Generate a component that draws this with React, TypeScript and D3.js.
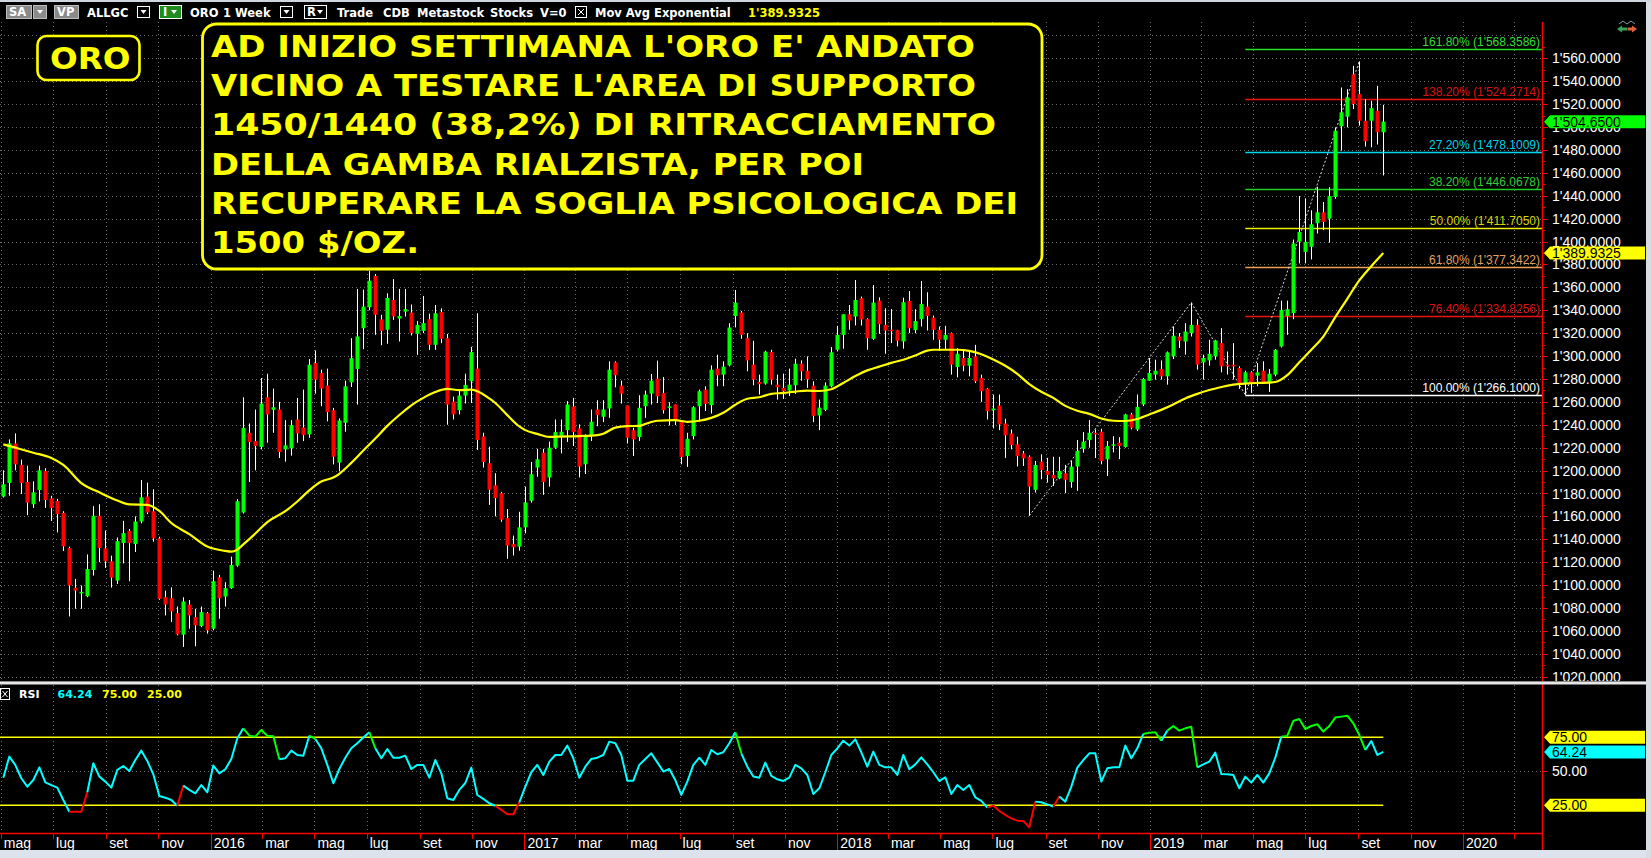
import React from "react";
import * as d3 from "d3";

// ---------------- DATA ----------------
const FIRST_WEEK = Date.UTC(2015, 4, 4); // first weekly bar: week of 4 May 2015
const DAY = 86400000;

const opens = [
  1177.3, 1189.2, 1223.7, 1205.0, 1190.0, 1170.6, 1183.0, 1199.6, 1175.7, 1173.5,
  1163.0, 1132.3, 1097.6, 1093.0, 1090.3, 1113.2, 1160.5, 1132.0, 1120.8, 1104.0,
  1136.7, 1147.4, 1135.8, 1155.5, 1177.3, 1164.5, 1140.8, 1089.4, 1088.6, 1075.5,
  1056.7, 1083.0, 1072.0, 1064.2, 1075.5, 1061.9, 1106.8, 1090.0, 1097.3, 1117.0,
  1163.4, 1233.0, 1225.7, 1220.5, 1264.0, 1253.0, 1253.3, 1218.5, 1219.4, 1244.6,
  1237.6, 1231.6, 1293.9, 1285.2, 1274.2, 1252.7, 1206.9, 1241.7, 1277.0, 1288.7,
  1324.3, 1342.6, 1369.9, 1332.0, 1322.9, 1349.0, 1332.7, 1338.8, 1338.0, 1319.4,
  1322.0, 1332.2, 1309.8, 1338.5, 1315.6, 1260.2, 1252.7, 1265.5, 1278.0, 1289.0,
  1229.8, 1206.4, 1187.2, 1180.3, 1158.5, 1136.0, 1133.6, 1150.4, 1173.6, 1202.6,
  1215.6, 1193.9, 1220.0, 1230.0, 1235.3, 1256.0, 1236.8, 1205.5, 1230.0, 1253.3,
  1247.0, 1254.2, 1294.5, 1274.2, 1256.8, 1235.3, 1229.3, 1256.2, 1267.2, 1280.3,
  1267.8, 1254.8, 1257.7, 1244.0, 1212.7, 1230.1, 1256.2, 1270.7, 1257.1, 1289.0,
  1283.8, 1291.9, 1335.0, 1338.0, 1315.6, 1292.5, 1277.4, 1276.0, 1303.5, 1275.0,
  1272.2, 1269.8, 1274.5, 1293.3, 1287.2, 1274.2, 1248.1, 1253.0, 1273.6, 1305.5,
  1318.5, 1336.5, 1334.5, 1350.4, 1332.2, 1315.0, 1348.4, 1327.2, 1323.0, 1322.6,
  1312.7, 1348.1, 1322.7, 1332.2, 1343.2, 1333.6, 1322.9, 1314.2, 1320.0, 1290.4,
  1298.3, 1291.6, 1299.7, 1280.9, 1271.6, 1252.7, 1256.8, 1241.1, 1232.4, 1222.9,
  1215.0, 1212.1, 1183.2, 1207.8, 1199.7, 1196.2, 1193.1, 1197.7, 1190.0, 1203.5,
  1219.0, 1226.6, 1233.0, 1233.9, 1209.8, 1222.0, 1224.3, 1220.6, 1249.0, 1235.9,
  1257.7, 1278.5, 1283.8, 1288.7, 1282.3, 1299.7, 1317.1, 1312.7, 1320.0, 1327.2,
  1294.5, 1296.2, 1299.7, 1311.3, 1292.5, 1292.5, 1289.6, 1276.5, 1285.8, 1282.9,
  1287.2, 1277.1, 1283.8, 1308.4, 1335.0, 1337.4, 1400.0, 1391.0, 1395.4, 1416.0,
  1425.5, 1420.0, 1438.9, 1500.6, 1509.0, 1546.0, 1528.7, 1505.5, 1505.5, 1514.2,
  1495.4,
];

const highs = [
  1200.2, 1227.2, 1232.4, 1209.5, 1204.3, 1190.6, 1204.3, 1202.0, 1178.0, 1175.3,
  1164.5, 1133.5, 1105.4, 1099.6, 1126.8, 1168.9, 1170.6, 1147.7, 1125.7, 1141.6,
  1156.1, 1148.9, 1160.0, 1191.8, 1189.5, 1183.7, 1142.2, 1095.2, 1098.0, 1081.3,
  1089.4, 1087.0, 1079.3, 1081.3, 1076.4, 1112.6, 1108.9, 1102.5, 1124.8, 1175.0,
  1264.0, 1241.1, 1253.3, 1280.8, 1284.6, 1271.6, 1260.0, 1244.0, 1244.0, 1263.4,
  1270.7, 1297.4, 1304.9, 1288.1, 1289.0, 1254.7, 1245.5, 1278.5, 1315.6, 1358.6,
  1358.0, 1374.5, 1371.6, 1336.0, 1354.8, 1367.2, 1358.6, 1358.6, 1345.0, 1330.5,
  1352.5, 1337.0, 1344.6, 1341.7, 1319.3, 1264.6, 1270.7, 1284.6, 1308.0, 1337.4,
  1233.0, 1220.8, 1197.7, 1181.4, 1166.4, 1143.2, 1164.0, 1186.0, 1207.5, 1219.0,
  1219.0, 1225.2, 1244.6, 1244.6, 1260.6, 1263.5, 1240.3, 1231.6, 1253.3, 1261.4,
  1261.4, 1295.4, 1295.4, 1278.5, 1256.8, 1237.4, 1265.8, 1269.8, 1284.3, 1296.0,
  1281.7, 1259.7, 1257.7, 1244.0, 1233.0, 1256.2, 1270.7, 1273.6, 1291.9, 1301.2,
  1295.4, 1328.7, 1357.7, 1339.4, 1320.0, 1313.3, 1283.8, 1304.6, 1305.5, 1283.8,
  1284.6, 1289.0, 1297.7, 1296.2, 1299.7, 1278.0, 1262.0, 1277.0, 1307.8, 1326.4,
  1336.5, 1344.6, 1366.4, 1351.9, 1333.0, 1362.0, 1351.3, 1341.7, 1341.0, 1322.9,
  1351.0, 1356.8, 1340.9, 1365.5, 1355.7, 1335.4, 1325.8, 1326.4, 1320.6, 1307.0,
  1305.5, 1304.0, 1309.8, 1283.8, 1272.2, 1266.4, 1266.4, 1245.2, 1235.9, 1229.5,
  1217.1, 1213.3, 1208.4, 1214.2, 1211.1, 1212.0, 1212.0, 1205.0, 1208.4, 1226.7,
  1233.6, 1244.0, 1235.9, 1236.5, 1225.8, 1230.0, 1229.2, 1249.6, 1250.4, 1266.4,
  1280.9, 1298.3, 1296.8, 1296.2, 1304.0, 1325.8, 1320.0, 1328.7, 1346.7, 1332.2,
  1301.2, 1314.2, 1314.2, 1324.3, 1304.0, 1311.3, 1291.0, 1287.2, 1286.7, 1293.9,
  1295.4, 1288.7, 1306.1, 1348.4, 1348.4, 1401.7, 1439.7, 1437.4, 1427.3, 1447.8,
  1434.5, 1447.5, 1499.7, 1534.5, 1533.0, 1553.4, 1557.3, 1524.4, 1522.9, 1536.0,
  1519.4,
];

const lows = [
  1176.4, 1178.0, 1200.2, 1179.6, 1161.0, 1167.4, 1173.0, 1167.4, 1156.0, 1146.0,
  1129.8, 1072.6, 1079.3, 1079.3, 1089.4, 1108.3, 1120.0, 1115.0, 1097.8, 1101.0,
  1119.0, 1103.4, 1128.9, 1154.0, 1162.0, 1137.9, 1087.1, 1073.5, 1067.7, 1056.1,
  1046.0, 1061.9, 1046.6, 1063.3, 1057.6, 1060.5, 1070.6, 1081.3, 1096.7, 1116.0,
  1162.5, 1190.0, 1200.2, 1218.5, 1224.3, 1233.0, 1211.0, 1207.8, 1213.0, 1224.3,
  1225.7, 1228.6, 1267.2, 1256.2, 1243.0, 1205.4, 1199.3, 1233.9, 1273.0, 1257.6,
  1306.0, 1340.0, 1318.5, 1309.5, 1310.7, 1331.6, 1312.7, 1334.5, 1318.0, 1301.0,
  1320.0, 1305.4, 1305.4, 1311.2, 1240.0, 1244.6, 1249.0, 1258.5, 1259.0, 1218.0,
  1202.6, 1170.0, 1160.0, 1155.3, 1122.9, 1125.8, 1130.0, 1145.2, 1172.0, 1194.5,
  1178.8, 1186.0, 1219.0, 1215.0, 1225.0, 1221.4, 1194.0, 1197.0, 1225.8, 1238.8,
  1242.3, 1246.0, 1272.7, 1258.5, 1223.7, 1212.7, 1225.8, 1246.0, 1257.7, 1259.0,
  1249.8, 1239.4, 1239.7, 1205.5, 1203.2, 1227.2, 1243.0, 1252.0, 1249.8, 1273.6,
  1273.6, 1291.0, 1325.0, 1315.0, 1286.7, 1274.5, 1266.4, 1275.0, 1275.0, 1262.0,
  1262.6, 1265.0, 1267.0, 1278.5, 1272.2, 1242.3, 1235.3, 1251.9, 1272.7, 1304.0,
  1306.4, 1323.0, 1326.7, 1326.7, 1305.5, 1314.2, 1319.4, 1302.0, 1311.3, 1308.4,
  1306.4, 1320.0, 1319.9, 1325.8, 1322.3, 1314.2, 1304.6, 1305.5, 1283.8, 1281.4,
  1286.7, 1282.3, 1276.5, 1260.0, 1244.6, 1236.8, 1235.3, 1211.1, 1218.5, 1203.5,
  1204.0, 1160.6, 1180.8, 1192.4, 1189.5, 1186.6, 1192.4, 1180.3, 1185.0, 1182.3,
  1215.6, 1220.0, 1211.0, 1205.5, 1195.3, 1215.9, 1210.0, 1220.0, 1236.0, 1234.5,
  1256.2, 1278.5, 1279.4, 1279.4, 1275.0, 1297.4, 1307.0, 1301.2, 1317.1, 1288.1,
  1279.4, 1291.6, 1296.8, 1285.8, 1283.8, 1279.4, 1271.3, 1266.1, 1267.8, 1273.6,
  1276.5, 1268.7, 1282.3, 1307.5, 1318.5, 1332.2, 1380.9, 1380.9, 1384.4, 1407.0,
  1409.9, 1399.0, 1437.4, 1479.4, 1499.7, 1515.7, 1501.2, 1483.0, 1482.3, 1484.7,
  1457.7,
];

const closes = [
  1188.0, 1223.7, 1205.4, 1189.2, 1172.0, 1181.0, 1200.2, 1174.4, 1167.4, 1162.0,
  1133.8, 1099.6, 1095.2, 1094.0, 1114.0, 1160.5, 1132.4, 1120.8, 1106.5, 1138.4,
  1145.4, 1136.7, 1155.5, 1176.7, 1163.4, 1140.8, 1088.0, 1083.0, 1077.0, 1057.0,
  1085.7, 1073.5, 1064.8, 1076.4, 1060.5, 1103.4, 1088.6, 1097.3, 1117.6, 1173.2,
  1237.3, 1224.9, 1221.4, 1258.5, 1249.0, 1255.3, 1216.2, 1222.0, 1239.7, 1232.4,
  1231.0, 1292.4, 1279.4, 1271.6, 1251.0, 1212.1, 1243.7, 1273.6, 1298.2, 1317.1,
  1343.2, 1365.8, 1336.0, 1322.0, 1350.7, 1334.5, 1335.0, 1341.0, 1320.0, 1327.2,
  1328.7, 1309.8, 1337.4, 1315.0, 1257.6, 1249.0, 1265.5, 1274.8, 1303.5, 1226.7,
  1207.5, 1183.2, 1176.0, 1157.1, 1134.5, 1133.0, 1150.4, 1172.1, 1196.8, 1209.8,
  1190.0, 1220.0, 1233.6, 1233.9, 1257.7, 1233.6, 1203.5, 1230.0, 1242.6, 1248.4,
  1253.3, 1288.1, 1283.2, 1267.2, 1228.7, 1227.2, 1254.8, 1266.4, 1278.5, 1264.9,
  1252.7, 1256.0, 1244.0, 1211.9, 1227.8, 1255.3, 1269.3, 1258.2, 1288.1, 1283.2,
  1290.7, 1324.9, 1346.7, 1318.5, 1296.2, 1279.4, 1275.4, 1303.8, 1279.4, 1272.7,
  1269.3, 1275.0, 1293.3, 1286.7, 1279.7, 1247.8, 1255.0, 1274.2, 1303.2, 1318.5,
  1336.5, 1331.0, 1349.0, 1331.9, 1315.6, 1346.7, 1327.8, 1322.3, 1322.0, 1313.3,
  1347.0, 1324.3, 1330.6, 1345.5, 1335.0, 1322.9, 1314.2, 1318.5, 1292.5, 1302.0,
  1291.6, 1298.3, 1278.0, 1269.3, 1251.9, 1254.2, 1240.3, 1230.7, 1222.3, 1212.7,
  1210.7, 1186.0, 1204.9, 1200.6, 1196.2, 1193.1, 1199.7, 1191.9, 1203.5, 1217.1,
  1225.2, 1233.0, 1231.6, 1208.4, 1221.4, 1222.9, 1221.4, 1249.0, 1237.4, 1255.6,
  1280.0, 1285.2, 1287.2, 1282.3, 1303.2, 1317.7, 1313.3, 1321.4, 1327.2, 1292.5,
  1298.3, 1302.0, 1313.6, 1291.0, 1291.0, 1291.0, 1276.5, 1285.8, 1276.5, 1285.8,
  1277.1, 1284.6, 1305.5, 1340.3, 1340.9, 1398.3, 1408.4, 1399.7, 1415.1, 1425.5,
  1417.1, 1439.7, 1496.8, 1512.8, 1525.8, 1520.0, 1505.5, 1487.6, 1516.5, 1495.4,
  1504.65,
];

// Exponential moving average at these weeks
const emaWeek = [
  0, 2, 5, 8, 10, 13, 16, 19, 21, 24, 26, 28, 31, 34, 37, 38, 39, 40, 42, 44,
  47, 49, 51, 53, 55, 56, 58, 60, 62, 64, 66, 68, 70, 72, 74, 76, 78, 79, 81, 82,
  84, 86, 87, 89, 91, 93, 96, 99, 100, 102, 104, 106, 107, 109, 112, 114, 116, 118, 120, 122,
  124, 126, 128, 130, 132, 134, 136, 138, 140, 142, 144, 146, 148, 150, 152, 154, 155, 157, 159, 161,
  163, 165, 167, 169, 171, 173, 175, 177, 179, 181, 183, 185, 187, 189, 191, 193, 195, 197, 199, 201,
  203, 205, 207, 209, 211, 212, 214, 216, 218, 220, 222, 224, 226, 228, 230,
];
const emaValue = [
  1222.9, 1220.0, 1215.6, 1211.0, 1205.0, 1189.0, 1181.0, 1173.8, 1170.4, 1170.1, 1164.7, 1154.2, 1144.5, 1133.6, 1129.8, 1129.2, 1131.0, 1135.5, 1145.0, 1155.0,
  1164.5, 1173.0, 1182.7, 1190.4, 1193.9, 1197.2, 1206.7, 1217.5, 1228.0, 1239.0, 1248.5, 1257.0, 1263.5, 1268.6, 1271.3, 1270.3, 1270.7, 1269.3, 1263.0, 1259.0,
  1248.4, 1238.5, 1235.3, 1232.0, 1229.4, 1229.7, 1230.1, 1231.0, 1232.2, 1237.5, 1238.8, 1239.0, 1240.7, 1243.5, 1244.0, 1242.6, 1243.5, 1246.0, 1250.5, 1257.5,
  1262.7, 1264.0, 1267.0, 1267.8, 1269.0, 1269.8, 1269.5, 1271.0, 1276.5, 1282.5, 1287.5, 1290.8, 1294.0, 1296.8, 1300.5, 1304.7, 1305.5, 1305.5, 1305.5, 1304.5,
  1301.5, 1297.0, 1291.5, 1284.5, 1275.5, 1268.8, 1263.5, 1256.5, 1252.3, 1249.5, 1245.5, 1243.5, 1243.3, 1245.0, 1249.0, 1253.0, 1257.7, 1263.0, 1267.0, 1270.3,
  1273.0, 1275.0, 1276.0, 1276.5, 1276.8, 1277.3, 1283.3, 1294.5, 1305.5, 1317.0, 1334.0, 1350.0, 1366.0, 1378.5, 1389.93,
];

// RSI, one value per weekly bar
const rsiValues = [
  45.3, 60.8, 54.6, 44.9, 38.7, 43.6, 52.9, 41.9, 39.9, 38.0,
  28.9, 20.3, 20.3, 20.3, 34.6, 55.9, 46.1, 42.4, 38.0, 51.0,
  53.9, 50.2, 58.3, 65.2, 57.6, 47.8, 31.9, 30.6, 28.9, 24.7,
  39.5, 36.3, 33.8, 39.9, 34.6, 54.2, 48.5, 51.5, 59.1, 74.3,
  81.6, 76.2, 75.5, 80.4, 76.2, 75.7, 58.8, 59.6, 65.2, 62.0,
  61.5, 76.2, 73.8, 66.9, 54.7, 41.2, 51.7, 60.0, 66.9, 70.6,
  74.8, 78.7, 66.9, 59.6, 66.4, 60.0, 60.0, 61.5, 51.7, 54.7,
  54.7, 45.3, 58.3, 48.5, 30.2, 28.9, 36.3, 41.4, 52.7, 32.6,
  29.7, 26.5, 24.7, 21.6, 18.4, 18.4, 27.2, 38.7, 49.3, 54.7,
  47.3, 57.1, 62.0, 62.0, 68.9, 59.6, 45.3, 53.4, 59.1, 60.0,
  62.0, 71.8, 70.6, 62.0, 43.1, 43.1, 54.7, 59.1, 63.2, 56.6,
  49.8, 51.7, 43.6, 32.6, 42.4, 54.7, 60.0, 54.7, 65.7, 62.5,
  64.0, 70.6, 78.7, 63.2, 53.4, 46.1, 45.3, 56.4, 46.6, 44.1,
  42.9, 45.3, 54.7, 52.2, 47.3, 33.3, 37.5, 49.3, 62.0, 66.9,
  72.5, 68.9, 73.5, 64.0, 53.4, 64.5, 54.7, 52.9, 52.9, 47.3,
  62.0, 51.5, 55.1, 60.3, 55.1, 49.3, 42.9, 45.6, 33.3, 39.9,
  36.3, 39.9, 30.9, 28.2, 23.3, 24.8, 20.8, 17.9, 15.4, 13.7,
  13.5, 8.8, 27.7, 27.2, 25.7, 24.0, 31.4, 27.7, 38.7, 52.7,
  58.3, 63.2, 63.2, 42.4, 52.2, 52.9, 52.9, 68.9, 59.6, 66.9,
  77.5, 78.4, 78.7, 72.5, 79.9, 83.3, 79.9, 81.6, 82.8, 52.9,
  55.1, 57.1, 63.7, 48.0, 47.8, 47.3, 37.5, 46.1, 41.7, 47.3,
  41.7, 48.5, 60.0, 75.5, 76.0, 87.0, 88.5, 81.1, 83.3, 84.6,
  79.2, 83.3, 89.5, 90.2, 90.9, 85.3, 76.7, 65.7, 72.3, 62.0,
  64.24,
];

// dotted zig-zag drawn by the analyst (week index, price)
const zigzagWeek = [171, 198, 207, 226];
const zigzagPrice = [1160.6, 1346.7, 1266.1, 1557.3];

// Fibonacci levels
const fibPercent = ["161.80%", "138.20%", "27.20%", "38.20%", "50.00%", "61.80%", "76.40%", "100.00%"];
const fibPrice = [1568.3586, 1524.2714, 1478.1009, 1446.0678, 1411.705, 1377.3422, 1334.8256, 1266.1];
const fibStartWeek = 207;

const priceTicks = d3.range(1020, 1561, 20);
const lastPrice = 1504.65;
const lastEma = 1389.9325;
const rsiUpper = 75;
const rsiLower = 25;
const rsiMid = 50;
const rsiLast = 64.24;

const monthNames = ["gen", "feb", "mar", "apr", "mag", "giu", "lug", "ago", "set", "ott", "nov", "dic"];

const headline = [
  "AD INIZIO SETTIMANA L'ORO E' ANDATO",
  "VICINO A TESTARE L'AREA DI SUPPORTO",
  "1450/1440 (38,2%) DI RITRACCIAMENTO",
  "DELLA GAMBA RIALZISTA, PER POI",
  "RECUPERARE LA SOGLIA PSICOLOGICA DEI",
  "1500 $/OZ.",
];

const toolbarTexts = ["ALLGC", "ORO", "1 Week", "Trade", "CDB", "Metastock", "Stocks", "V=0", "Mov Avg Exponential"];

// ---------------- STYLES ----------------
const GREEN = "#00ff00";
const RED = "#ff0000";
const CYAN = "#00ffff";
const YELLOW = "#ffff00";
const FIB_COLORS = ["#22dd22", "#ee1111", "#00d8f0", "#22cc22", "#f0f000", "#f0a050", "#ee1111", "#ffffff"];
const FIB_TEXT = ["#33dd33", "#dd1111", "#00d0e8", "#33cc33", "#d8d800", "#e0a060", "#dd1111", "#ffffff"];
const GRID = "#6a6a6a";
const AX_FONT = "'Liberation Sans', Arial, sans-serif";
const UI_FONT = "'DejaVu Sans', Verdana, sans-serif";
const HEAD_WIDTHS = [764, 765, 785, 653, 807, 208];
const TOOLBAR_X = [87, 190, 223, 337, 383, 417, 490, 540, 595];

export default function App() {
  const W = 1651;
  const H = 858;
  const mainTop = 22;
  const mainBottom = 681;
  const axisX = 1542;
  const rsiTop = 685;
  const rsiBottom = 833;

  const dates = closes.map((_, i) => new Date(FIRST_WEEK + i * 7 * DAY));
  const x = d3.scaleUtc().domain([dates[0], dates[dates.length - 1]]).range([3.33, 1383.3]);
  const y = d3.scaleLinear().domain([1020, 1560]).range([676.7, 58.3]);
  const yr = d3.scaleLinear().domain([rsiLower, rsiUpper]).range([805.3, 737.3]);
  const fmt = (v: number) => d3.format(",.4f")(v).replace(/,/g, "'");
  const xw = (w: number) => x(new Date(FIRST_WEEK + w * 7 * DAY));

  const monthTicks = d3.utcMonth
    .every(2)!
    .range(new Date(Date.UTC(2015, 4, 1)), new Date(Date.UTC(2020, 3, 1)))
    .map((d) => ({ d, px: x(d) }))
    .filter((t) => t.px < axisX);

  const gridPrices = d3.range(1020, 1600, 20).filter((v) => y(v) > mainTop);

  const emaLine = d3
    .line<number>()
    .x((_, i) => xw(emaWeek[i]))
    .y((v) => y(v))
    .curve(d3.curveMonotoneX)(emaValue);

  const zigzag = d3
    .line<number>()
    .x((_, i) => xw(zigzagWeek[i]))
    .y((v) => y(v))(zigzagPrice);

  // RSI coloured runs
  const rsiColor = (v: number) => (v > rsiUpper ? GREEN : v < rsiLower ? RED : CYAN);
  const runs: { c: string; pts: number[] }[] = [];
  for (let i = 0; i < rsiValues.length - 1; i++) {
    const c = rsiColor(rsiValues[i]);
    const last = runs[runs.length - 1];
    if (!last || last.c !== c) runs.push({ c, pts: [i, i + 1] });
    else last.pts.push(i + 1);
  }
  const rsiLine = d3
    .line<number>()
    .x((i) => x(dates[i]))
    .y((i) => yr(rsiValues[i]));

  const tag = (cy: number, fill: string, label: string, key: string) => (
    <g key={key}>
      <path
        d={`M${axisX + 2},${cy} L${axisX + 8},${cy - 6.5} L1645,${cy - 6.5} L1645,${cy + 6.5} L${axisX + 8},${cy + 6.5} Z`}
        fill={fill}
      />
      <text x={axisX + 10} y={cy} dy="0.36em" fontFamily={AX_FONT} fontSize={14} fill="#000">
        {label}
      </text>
    </g>
  );

  const bw = 4;

  return (
    <div>
      <style>{`html,body{margin:0;padding:0;background:#000;overflow:hidden}`}</style>
      <svg width={W} height={H} style={{ display: "block" }}>
        <defs>
          <clipPath id="mainClip">
            <rect x={0} y={mainTop} width={axisX} height={mainBottom - mainTop} />
          </clipPath>
          <clipPath id="axisClip">
            <rect x={axisX} y={mainTop} width={W - axisX} height={mainBottom - mainTop} />
          </clipPath>
        </defs>
        <rect width={W} height={H} fill="#000" />

        {/* main panel grid */}
        <g stroke={GRID} strokeWidth={1} strokeDasharray="1 3">
          {gridPrices.map((v) => (
            <line key={"hg" + v} x1={0} x2={axisX} y1={Math.round(y(v)) + 0.5} y2={Math.round(y(v)) + 0.5} />
          ))}
          {monthTicks.map((t) => (
            <line key={"vg" + t.px} x1={Math.round(t.px) + 0.5} x2={Math.round(t.px) + 0.5} y1={mainTop} y2={mainBottom} />
          ))}
          {monthTicks.map((t) => (
            <line key={"vgr" + t.px} x1={Math.round(t.px) + 0.5} x2={Math.round(t.px) + 0.5} y1={rsiTop} y2={rsiBottom} />
          ))}
          <line x1={0} x2={axisX} y1={Math.round(yr(rsiMid)) + 0.5} y2={Math.round(yr(rsiMid)) + 0.5} />
        </g>

        <g clipPath="url(#mainClip)">
          {/* Fibonacci lines */}
          {fibPrice.map((p, i) => (
            <line
              key={"fib" + i}
              x1={xw(fibStartWeek)}
              x2={axisX}
              y1={Math.round(y(p)) + 0.5}
              y2={Math.round(y(p)) + 0.5}
              stroke={FIB_COLORS[i]}
              strokeWidth={1.3}
            />
          ))}
          {fibPrice.map((p, i) => (
            <text
              key={"fibt" + i}
              x={axisX - 2}
              y={y(p) - 3}
              textAnchor="end"
              fontFamily={AX_FONT}
              fontSize={12}
              fill={FIB_TEXT[i]}
            >
              {`${fibPercent[i]} (${fmt(p)})`}
            </text>
          ))}

          {/* zigzag */}
          <path d={zigzag || ""} fill="none" stroke="#d8d8d8" strokeWidth={1} strokeDasharray="2 2" />

          {/* candles */}
          {closes.map((c, i) => {
            const cx = Math.round(x(dates[i]));
            const o = opens[i];
            const up = c >= o;
            const top = y(Math.max(o, c));
            const bot = y(Math.min(o, c));
            return (
              <g key={"c" + i}>
                <line x1={cx + 0.5} x2={cx + 0.5} y1={y(highs[i])} y2={y(lows[i])} stroke="#ffffff" strokeWidth={1} />
                <rect
                  x={cx + 0.5 - bw / 2}
                  y={top}
                  width={bw}
                  height={Math.max(1.5, bot - top)}
                  fill={up ? GREEN : RED}
                />
              </g>
            );
          })}

          {/* EMA */}
          <path d={emaLine || ""} fill="none" stroke={YELLOW} strokeWidth={2.2} />
        </g>

        {/* annotation boxes */}
        <rect x={37.5} y={36} width={102} height={44} rx={9} fill="#000" stroke={YELLOW} strokeWidth={2.6} />
        <text x={50} y={68.5} fontFamily={UI_FONT} fontWeight="bold" fontSize={30} fill={YELLOW} textLength={80.5} lengthAdjust="spacingAndGlyphs">
          ORO
        </text>
        <rect x={202.5} y={24} width={839.5} height={245} rx={14} fill="#000" stroke={YELLOW} strokeWidth={2.8} />
        {headline.map((line, i) => (
          <text
            key={"hl" + i}
            x={211}
            y={57 + i * 39.2}
            fontFamily={UI_FONT}
            fontWeight="bold"
            fontSize={30}
            fill={YELLOW}
            textLength={HEAD_WIDTHS[i]}
            lengthAdjust="spacingAndGlyphs"
          >
            {line}
          </text>
        ))}

        {/* RSI panel */}
        <line x1={0} x2={x(dates[dates.length - 1])} y1={yr(rsiUpper)} y2={yr(rsiUpper)} stroke={YELLOW} strokeWidth={1.5} />
        <line x1={0} x2={x(dates[dates.length - 1])} y1={yr(rsiLower)} y2={yr(rsiLower)} stroke={YELLOW} strokeWidth={1.5} />
        {runs.map((r, k) => (
          <path key={"rsi" + k} d={rsiLine(r.pts) || ""} fill="none" stroke={r.c} strokeWidth={2} strokeLinejoin="round" />
        ))}
        <rect x={0.5} y={688.5} width={9} height={11} fill="none" stroke="#fff" strokeWidth={1} />
        <path d="M2.5,691 L7.5,697 M7.5,691 L2.5,697" stroke="#fff" strokeWidth={1} />
        <g fontFamily={UI_FONT} fontWeight="bold" fontSize={11}>
          <text x={19} y={698} fill="#fff">RSI</text>
          <text x={57.5} y={698} fill={CYAN}>{rsiLast.toFixed(2)}</text>
          <text x={102} y={698} fill={YELLOW}>{rsiUpper.toFixed(2)}</text>
          <text x={147} y={698} fill={YELLOW}>{rsiLower.toFixed(2)}</text>
        </g>

        {/* right price axis */}
        <line x1={axisX + 0.5} x2={axisX + 0.5} y1={mainTop} y2={850} stroke={RED} strokeWidth={1.5} />
        <g clipPath="url(#axisClip)">
          {d3.range(1020, 1580, 10).map((v) => (
            <line
              key={"pt" + v}
              x1={axisX}
              x2={axisX + (v % 20 === 0 ? 6 : 3)}
              y1={Math.round(y(v)) + 0.5}
              y2={Math.round(y(v)) + 0.5}
              stroke={RED}
            />
          ))}
          {priceTicks.map((v) => (
            <text key={"pl" + v} x={axisX + 10} y={y(v)} dy="0.36em" fontFamily={AX_FONT} fontSize={14} fill="#fff">
              {fmt(v)}
            </text>
          ))}
          {tag(y(lastPrice), GREEN, fmt(lastPrice), "tagP")}
          {tag(y(lastEma), YELLOW, fmt(lastEma), "tagE")}
        </g>
        <line x1={axisX} x2={axisX + 6} y1={Math.round(yr(rsiMid)) + 0.5} y2={Math.round(yr(rsiMid)) + 0.5} stroke={RED} />
        <text x={axisX + 10} y={yr(rsiMid)} dy="0.36em" fontFamily={AX_FONT} fontSize={14} fill="#fff">
          {rsiMid.toFixed(2)}
        </text>
        {tag(yr(rsiUpper), YELLOW, rsiUpper.toFixed(2), "tagU")}
        {tag(yr(rsiLast), CYAN, rsiLast.toFixed(2), "tagR")}
        {tag(yr(rsiLower), YELLOW, rsiLower.toFixed(2), "tagL")}

        {/* bottom time axis */}
        <line x1={0} x2={axisX} y1={833.5} y2={833.5} stroke={RED} strokeWidth={1.5} />
        {monthTicks.map((t) => {
          const m = t.d.getUTCMonth();
          const isYear = m === 0;
          const px = Math.round(t.px) + 0.5;
          return (
            <g key={"mt" + t.px}>
              <line x1={px} x2={px} y1={833} y2={isYear ? 850 : 839} stroke={RED} strokeWidth={1} />
              {t.px < 1500 && (
                <text x={Math.max(1, t.px + 3)} y={848} fontFamily={AX_FONT} fontSize={14} fill="#fff">
                  {isYear ? String(t.d.getUTCFullYear()) : monthNames[m]}
                </text>
              )}
            </g>
          );
        })}

        {/* panel separator and frame strips */}
        <rect x={0} y={681} width={W} height={1} fill="#8a8a8a" />
        <rect x={0} y={682} width={W} height={2.5} fill="#e6e6e6" />
        <rect x={0} y={850} width={W} height={8} fill="#dde3ec" />
        <rect x={1646} y={0} width={5} height={H} fill="#d8dde4" />
        <rect x={0} y={0} width={W} height={2} fill="#cfd6e0" />

        {/* top toolbar */}
        <g fontFamily={UI_FONT} fontWeight="bold" fontSize={11.5}>
          <rect x={6.5} y={5.5} width={25} height={13} fill="#8a8a8a" stroke="#bdbdbd" />
          <text x={9} y={16} fill="#fff">SA</text>
          <rect x={33.5} y={5.5} width={13} height={13} fill="#8a8a8a" stroke="#bdbdbd" />
          <path d="M37,10 L43,10 L40,14 Z" fill="#fff" />
          <rect x={54.5} y={5.5} width={24} height={13} fill="#8a8a8a" stroke="#bdbdbd" />
          <text x={57} y={16} fill="#fff">VP</text>
          <rect x={137.5} y={6.5} width={12} height={11} fill="#000" stroke="#fff" />
          <path d="M140.5,10 L146.5,10 L143.5,14 Z" fill="#fff" />
          <rect x={159.5} y={5.5} width={22} height={13} fill="#1e8c1e" stroke="#fff" />
          <text x={163} y={16} fill="#fff">I</text>
          <path d="M171,10 L177,10 L174,14 Z" fill="#fff" />
          <rect x={280.5} y={6.5} width={12} height={11} fill="#000" stroke="#fff" />
          <path d="M283.5,10 L289.5,10 L286.5,14 Z" fill="#fff" />
          <rect x={304.5} y={5.5} width={22} height={13} fill="#000" stroke="#fff" />
          <text x={307} y={16} fill="#fff">R</text>
          <path d="M317,10 L323,10 L320,14 Z" fill="#fff" />
          <rect x={575.5} y={6.5} width={11} height={11} fill="#000" stroke="#fff" />
          <path d="M578,9 L584,15 M584,9 L578,15" stroke="#fff" strokeWidth={1} />
          {toolbarTexts.map((t, i) => (
            <text key={"tb" + i} x={TOOLBAR_X[i]} y={17} fill="#fff">
              {t}
            </text>
          ))}
          <text x={748} y={17} fill={YELLOW} fontWeight="bold">
            {fmt(lastEma)}
          </text>
        </g>

        {/* top right icon */}
        <path d="M1619,24 L1623,21 L1627,24 L1631,21 L1635,24" fill="none" stroke="#8a9aa8" strokeWidth={1} />
        <path d="M1617,29 L1622,25.5 L1622,27.5 L1627,27.5 L1627,30.5 L1622,30.5 L1622,32.5 Z" fill="#3aa05a" />
        <path d="M1637,29 L1632,25.5 L1632,27.5 L1627.5,27.5 L1627.5,30.5 L1632,30.5 L1632,32.5 Z" fill="#e0603a" />
      </svg>
    </div>
  );
}
